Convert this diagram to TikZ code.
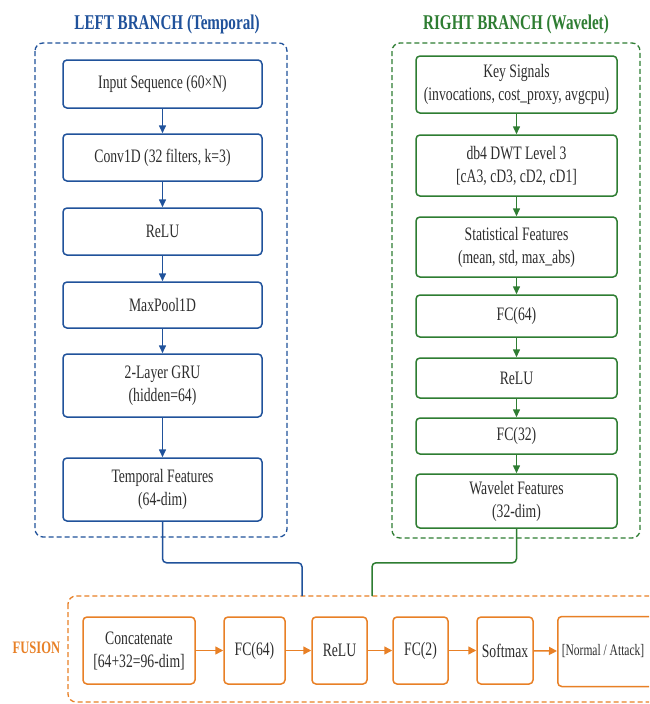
\documentclass[tikz,border=0pt]{standalone}
\usepackage{fontspec}
\setmainfont{Liberation Serif}[FakeStretch=0.72]
\usepackage{tikz}
\usetikzlibrary{positioning,calc,arrows.meta}

\definecolor{tempblue}{RGB}{32,82,155}
\definecolor{wavegreen}{RGB}{46,125,50}
\definecolor{fuseorange}{RGB}{232,128,38}
\definecolor{boxtext}{RGB}{45,45,45}
\newcommand{\boxfont}{\fontsize{19}{23}\selectfont}
\newcommand{\titlefont}{\fontsize{21}{25}\selectfont\bfseries}

\begin{document}
\begin{tikzpicture}[x=1pt,y=-1pt,
    tempbox/.style={draw=tempblue, line width=1.5pt, rounded corners=4pt, fill=white,
        text=boxtext, align=center, font=\boxfont, minimum width=199pt},
    wavebox/.style={draw=wavegreen, line width=1.5pt, rounded corners=4pt, fill=white,
        text=boxtext, align=center, font=\boxfont, minimum width=201pt},
    fusebox/.style={draw=fuseorange, line width=1.5pt, rounded corners=4pt, fill=white,
        text=boxtext, align=center, font=\boxfont, minimum height=67pt},
    region/.style={line width=1.3pt, dash pattern=on 5pt off 3pt, rounded corners=8pt},
    tarrow/.style={tempblue, line width=1.5pt, -{Triangle[length=8pt,width=7pt]}},
    warrow/.style={wavegreen, line width=1.5pt, -{Triangle[length=8pt,width=7pt]}},
    farrow/.style={fuseorange, line width=1.5pt, -{Triangle[length=8pt,width=8pt]}}]
    \clip (0,0) rectangle (649,704);
    \fill[white] (0,0) rectangle (649,704);

    % Left branch (temporal)
    \node[anchor=base, font=\titlefont, text=tempblue] (ltitle) at (167,29) {LEFT BRANCH (Temporal)};
    \draw[region, tempblue] (35,43) rectangle (287,537);
    \node[tempbox, minimum height=48pt] (in) at (162.5,84) {Input Sequence (60×N)};
    \node[tempbox, minimum height=47pt] (conv) at (162.5,157.5) {Conv1D (32 filters, k=3)};
    \node[tempbox, minimum height=47pt] (relu) at (162.5,231.5) {ReLU};
    \node[tempbox, minimum height=46pt] (pool) at (162.5,305) {MaxPool1D};
    \node[tempbox, minimum height=63pt] (gru) at (162.5,385.5) {2-Layer GRU\\(hidden=64)};
    \node[tempbox, minimum height=63pt] (tfeat) at (162.5,489.5) {Temporal Features\\(64-dim)};
    \foreach \a/\b in {in/conv,conv/relu,relu/pool,pool/gru,gru/tfeat}
        \draw[tarrow] (\a) -- (\b);

    % Right branch (wavelet)
    \node[anchor=base, font=\titlefont, text=wavegreen] (rtitle) at (516,29) {RIGHT BRANCH (Wavelet)};
    \draw[region, wavegreen] (392,43) rectangle (640,538);
    \node[wavebox, minimum height=57pt] (keys) at (516.5,84.5) {Key Signals\\(invocations, cost\_proxy, avgcpu)};
    \node[wavebox, minimum height=61pt] (dwt) at (516.5,165.5) {db4 DWT Level 3\\{[}cA3, cD3, cD2, cD1{]}};
    \node[wavebox, minimum height=60pt] (stat) at (516.5,247) {Statistical Features\\(mean, std, max\_abs)};
    \node[wavebox, minimum height=42pt] (wfc1) at (516.5,316) {FC(64)};
    \node[wavebox, minimum height=40pt] (wrelu) at (516.5,378) {ReLU};
    \node[wavebox, minimum height=36pt] (wfc2) at (516.5,436) {FC(32)};
    \node[wavebox, minimum height=54pt] (wfeat) at (516.5,501) {Wavelet Features\\(32-dim)};
    \foreach \a/\b in {keys/dwt,dwt/stat,stat/wfc1,wfc1/wrelu,wrelu/wfc2,wfc2/wfeat}
        \draw[warrow] (\a) -- (\b);

    % Fusion
    \draw[region, fuseorange] (68,596) rectangle (690,702);
    \node[anchor=base, font=\fontsize{17.5}{21}\selectfont\bfseries, text=fuseorange] (flabel) at (36.5,653) {FUSION};
    \node[fusebox, minimum width=112pt] (cat) at (139,650.5) {Concatenate\\{[}64+32=96-dim{]}};
    \node[fusebox, minimum width=61pt] (ffc1) at (254.5,650.5) {FC(64)};
    \node[fusebox, minimum width=55pt] (frelu) at (339.5,650.5) {ReLU};
    \node[fusebox, minimum width=55pt] (ffc2) at (420.5,650.5) {FC(2)};
    \node[fusebox, minimum width=56pt] (soft) at (505,650.5) {Softmax};
    \node[fusebox, font=\fontsize{16}{20}\selectfont, minimum height=70pt, anchor=west, inner xsep=4pt]
        (out) at (557,651.5) {\makebox[95pt][l]{[Normal / Attack]}};
    \foreach \a/\b in {cat/ffc1,ffc1/frelu,frelu/ffc2,ffc2/soft,soft/out}
        \draw[farrow] (\a) -- (\b);

    % Branches into fusion
    \coordinate (ljoin) at (302,596);
    \coordinate (rjoin) at (372,596);
    \draw[tempblue, line width=1.5pt, rounded corners=4pt] (tfeat.south) -- ++(0,41) -| (ljoin);
    \draw[wavegreen, line width=1.5pt, rounded corners=4pt] (wfeat.south) -- ++(0,34) -| (rjoin);
\end{tikzpicture}
\end{document}
